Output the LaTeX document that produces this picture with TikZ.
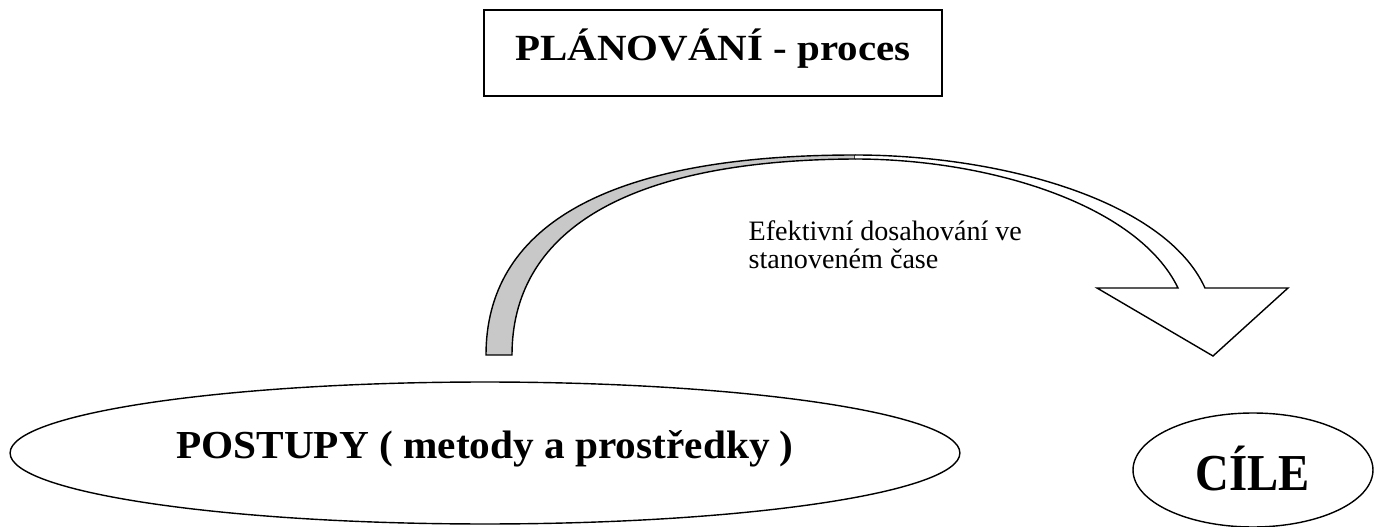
\documentclass[tikz,border=0pt]{standalone}
\usepackage{fontspec}
\setmainfont{Liberation Serif}
\usetikzlibrary{shapes.geometric}
\definecolor{shaftgray}{RGB}{200,200,200}

\begin{document}
\begin{tikzpicture}[x=0.02cm,y=-0.02cm,line width=0.8pt,
  oval/.style={draw,ellipse,inner sep=0pt},
  bigtext/.style={font=\bfseries}]
\useasboundingbox (0,0) rectangle (1374,527);
% title
\node[draw,line width=1pt,minimum width=9.16cm,minimum height=1.72cm,inner sep=0pt,bigtext] (title) at (713,53)
  {\fontsize{21}{25}\selectfont\raisebox{-4pt}[0pt][0pt]{\scalebox{1.11}[1]{PLÁNOVÁNÍ - proces}}};
% the two ovals
\node[oval,minimum width=19cm,minimum height=2.84cm,bigtext] (postupy) at (485,453)
  {\fontsize{22.6}{26}\selectfont\raisebox{-3pt}[0pt][0pt]{\scalebox{1.04}[1]{POSTUPY ( metody a prostředky )}}};
\node[oval,minimum width=4.8cm,minimum height=2.28cm,bigtext] (cile) at (1253,470)
  {\fontsize{29.5}{34}\selectfont\raisebox{-11.7pt}[0pt][0pt]{\scalebox{0.9}[1]{CÍLE}}};
% curved arrow
\coordinate (oL) at (486,355);
\coordinate (iL) at (512,355);
\coordinate (top) at (855,155);
\coordinate (topin) at (855,159);
\coordinate (oR) at (1205,288);
\coordinate (iR) at (1178,288);
\coordinate (hL) at (1097,288);
\coordinate (hR) at (1288,288);
\coordinate (tip) at (1213,356);
\draw[fill=shaftgray] (oL) .. controls (486,230) and (600,155) .. (top) -- (topin)
  .. controls (620,160) and (512,235) .. (iL) -- cycle;
\draw[fill=white] (top) .. controls (1000,155) and (1165,200) .. (oR) -- (hR) -- (tip) -- (hL) -- (iR)
  .. controls (1138,205) and (990,159) .. (topin);
\node[anchor=north west,inner sep=0pt,align=left,font=\fontsize{16}{16.2}\selectfont] (popis) at (748,220)
  {Efektivní dosahování ve\\stanoveném čase};
\end{tikzpicture}
\end{document}
